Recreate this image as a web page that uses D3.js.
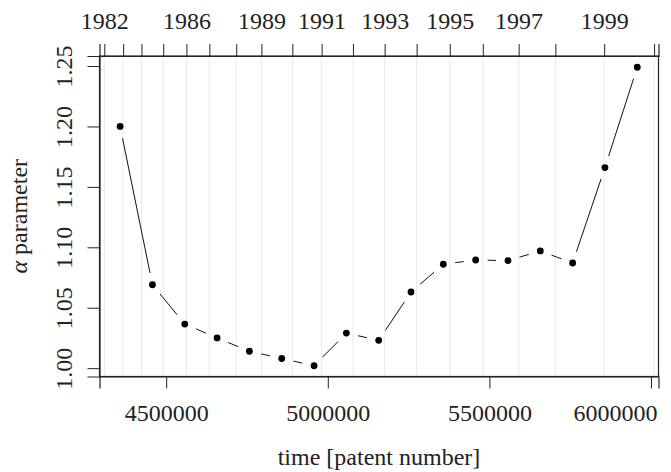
<!DOCTYPE html>
<html>
<head>
<meta charset="utf-8">
<script src="https://cdn.jsdelivr.net/npm/d3@7"></script>
<style>
  body { margin: 0; background: #fff; }
  text { font-family: "Liberation Serif", serif; fill: #222; }
</style>
</head>
<body>
<div class="chart"></div>
<script>
// patent number (middle of each bin) and alpha estimate
var patents = [4357500, 4457500, 4557500, 4657500, 4757500, 4857500, 4957500, 5057500, 5157500,
  5257500, 5357500, 5457500, 5557500, 5657500, 5757500, 5857500, 5957500]
var alphas = [1.200, 1.069, 1.0365, 1.025, 1.014, 1.008, 1.002, 1.029, 1.023,
  1.063, 1.086, 1.0895, 1.089, 1.097, 1.087, 1.166, 1.249]

// first patent number of each year (top axis)
var years = [1982, 1983, 1984, 1985, 1986, 1987, 1988, 1989, 1990, 1991,
  1992, 1993, 1994, 1995, 1996, 1997, 1998, 1999, 2000]
var yearStarts = [4308622, 4366868, 4423523, 4490885, 4562596, 4633526, 4716738, 4794652, 4890335, 4980927,
  5077836, 5175886, 5274846, 5377359, 5479658, 5590420, 5704101, 5855021, 6009555]
var yearLabels = [1982, 1986, 1989, 1991, 1993, 1995, 1997, 1999]

var xTicks = [4500000, 5000000, 5500000, 6000000]
var yTicks = [1.00, 1.05, 1.10, 1.15, 1.20, 1.25]

var W = 671, H = 472
// careful: "top" is taken by window.top
var mLeft = 99.5, mRight = 658.5, mTop = 56, mBottom = 376.5

var x = d3.scaleLinear().domain([4293700, 6023200]).range([mLeft, mRight])
var y = d3.scaleLinear().domain([0.9931, 1.2583]).range([mBottom, mTop])

var svg = d3.select('.chart')
  .append('svg')
  .attr('width', W)
  .attr('height', H)

// light vertical grid at year starts
svg.append('g')
  .selectAll('line')
  .data(yearStarts)
  .enter()
  .append('line')
    .attr('x1', d => x(d)).attr('x2', d => x(d))
    .attr('y1', mTop).attr('y2', mBottom)
    .attr('stroke', '#ebebeb')
    .attr('stroke-width', 1)

// box
svg.append('rect')
  .attr('x', mLeft).attr('y', mTop)
  .attr('width', mRight - mLeft).attr('height', mBottom - mTop)
  .attr('fill', 'none')
  .attr('stroke', '#222')
  .attr('stroke-width', 1.2)

// bottom axis
var xAxis = svg.append('g')
  .attr('transform', 'translate(0,' + mBottom + ')')
  .call(d3.axisBottom(x).tickValues(xTicks).tickSize(12).tickPadding(15).tickFormat(d3.format('d')))

// last label pulled back inside the page
xAxis.selectAll('.tick text')
  .filter(d => d == 6000000)
  .attr('text-anchor', 'end')
  .attr('x', 6)

// top axis (years)
var topAxis = svg.append('g')
  .attr('transform', 'translate(0,' + mTop + ')')
  .call(d3.axisTop(x).tickValues(yearStarts).tickSize(12).tickPadding(15)
    .tickFormat((d, i) => yearLabels.indexOf(years[i]) >= 0 ? years[i] : ''))

// left axis
var yAxis = svg.append('g')
  .attr('transform', 'translate(' + mLeft + ',0)')
  .call(d3.axisLeft(y).tickValues(yTicks).tickSize(12).tickFormat(d3.format('.2f')))

svg.selectAll('g').attr('font-family', '"Liberation Serif", serif').attr('font-size', 24)
svg.selectAll('.domain').attr('stroke', '#222').attr('stroke-width', 1.2)
svg.selectAll('.tick line').attr('stroke', '#222').attr('stroke-width', 1)
svg.selectAll('.tick text').attr('fill', '#222')

// rotate y labels (read bottom to top)
yAxis.selectAll('.tick text')
  .attr('x', null).attr('dy', null)
  .attr('text-anchor', 'middle')
  .attr('transform', 'translate(-28,0) rotate(-90)')

// lines between points, with gaps like type="b"
var gap = 12
var segs = []
for (var i = 0; i < patents.length - 1; i++) {
  var x0 = x(patents[i]), y0 = y(alphas[i])
  var x1 = x(patents[i + 1]), y1 = y(alphas[i + 1])
  var len = Math.hypot(x1 - x0, y1 - y0)
  if (len <= 2 * gap) continue
  var ux = (x1 - x0) / len, uy = (y1 - y0) / len
  segs.push([x0 + ux * gap, y0 + uy * gap, x1 - ux * gap, y1 - uy * gap])
}

svg.append('g')
  .selectAll('line')
  .data(segs)
  .enter()
  .append('line')
    .attr('x1', d => d[0]).attr('y1', d => d[1])
    .attr('x2', d => d[2]).attr('y2', d => d[3])
    .attr('stroke', '#111')
    .attr('stroke-width', 1)

svg.append('g')
  .selectAll('circle')
  .data(patents)
  .enter()
  .append('circle')
    .attr('cx', d => x(d))
    .attr('cy', (d, i) => y(alphas[i]))
    .attr('r', 3.4)
    .attr('fill', '#000')

// axis titles
svg.append('text')
  .attr('x', (mLeft + mRight) / 2)
  .attr('y', 465)
  .attr('text-anchor', 'middle')
  .style('font-size', '24px')
  .text('time [patent number]')

var ylab = svg.append('text')
  .attr('transform', 'translate(27,' + (mTop + mBottom) / 2 + ') rotate(-90)')
  .attr('text-anchor', 'middle')
  .style('font-size', '24px')
ylab.append('tspan').style('font-style', 'italic').text('α')
ylab.append('tspan').text(' parameter')
</script>
</body>
</html>
